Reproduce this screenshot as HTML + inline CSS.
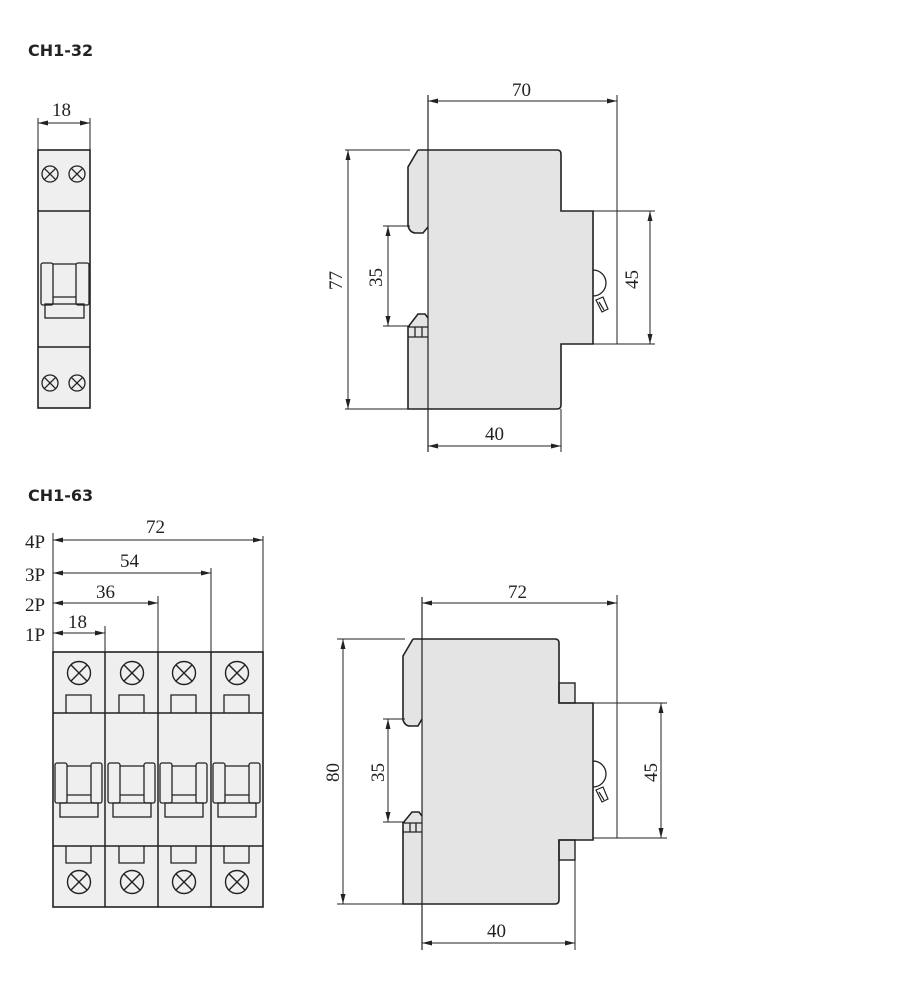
<!DOCTYPE html>
<html><head><meta charset="utf-8"><style>
html,body{margin:0;padding:0;background:#fff;width:900px;height:996px;overflow:hidden}
svg{display:block}
text{font-family:"Liberation Serif",serif;font-size:19px;fill:#222}
.h{font-family:"DejaVu Sans","Liberation Sans",sans-serif;font-weight:bold;font-size:16px;fill:#222}
</style></head><body>
<svg width="900" height="996" viewBox="0 0 900 996" xmlns="http://www.w3.org/2000/svg">
<defs>
<marker id="a" viewBox="0 0 10 6" refX="10" refY="3" markerWidth="10" markerHeight="6" orient="auto-start-reverse" markerUnits="userSpaceOnUse"><path d="M0,0.5 L10,3 L0,5.5 Z" fill="#222"/></marker>
<g id="cx"><circle r="8" fill="none" stroke="#222" stroke-width="1.3"/><path d="M-5.6,-5.6 L5.6,5.6 M-5.6,5.6 L5.6,-5.6" stroke="#222" stroke-width="1.3"/></g>
<g id="cx2"><circle r="11.5" fill="none" stroke="#222" stroke-width="1.4"/><path d="M-8.1,-8.1 L8.1,8.1 M-8.1,8.1 L8.1,-8.1" stroke="#222" stroke-width="1.4"/></g>
</defs>
<g stroke="#222" fill="none" stroke-width="1">
<text class="h" x="28" y="56" stroke="none">CH1-32</text>
<text class="h" x="28" y="501" stroke="none">CH1-63</text>

<!-- top-left 1P module -->
<rect x="38" y="150" width="52" height="258" fill="#efefef" stroke-width="1.6"/>
<line x1="38" y1="211" x2="90" y2="211" stroke-width="1.4"/>
<line x1="38" y1="347" x2="90" y2="347" stroke-width="1.4"/>
<use href="#cx" x="50" y="174"/><use href="#cx" x="77" y="174"/>
<use href="#cx" x="50" y="383"/><use href="#cx" x="77" y="383"/>
<rect x="41" y="263" width="12" height="42" rx="2" stroke-width="1.3"/>
<rect x="76" y="263" width="13" height="42" rx="2" stroke-width="1.3"/>
<path d="M53,264 L76,264 M53,297 L76,297" stroke-width="1.3"/>
<rect x="45" y="304" width="39" height="14" stroke-width="1.3"/>
<line x1="38" y1="118" x2="38" y2="150"/><line x1="90" y1="118" x2="90" y2="150"/>
<line x1="38" y1="123" x2="90" y2="123" marker-start="url(#a)" marker-end="url(#a)"/>
<text x="52" y="116" stroke="none">18</text>

<!-- top side view -->
<g fill="#e4e4e4" stroke="none">
<path d="M428,150 L557,150 Q561,150 561,154 L561,211 L593,211 L593,344 L561,344 L561,405 Q561,409 557,409 L428,409 Z"/>
<path d="M418,150 L429,150 L429,227 L423,233 L416,233 Q410,233 408,226 L408,167 Z"/>
<path d="M408,327 L418,314 L425,314 L429,318 L429,409 L408,409 Z"/>
</g>
<path d="M418,150 L557,150 Q561,150 561,154 L561,211 L593,211 L593,344 L561,344 L561,405 Q561,409 557,409 L408,409 L408,327 L418,314 L425,314 L428,318 M418,150 L408,167 L408,226 Q410,233 416,233 L423,233 L428,227" stroke-width="1.6"/>
<path d="M408,327 L428,327 M408,337 L428,337 M415,327 L415,337 M422,327 L422,337" stroke-width="1.3"/>
<path d="M593,270 A13,13 0 0 1 593,296" stroke-width="1.3"/>
<path d="M596,300 L603,297 L608,309 L602,312 Z M599,302 L604,310" stroke-width="1.2"/>
<line x1="428" y1="95" x2="428" y2="452" stroke-width="1.2"/>
<line x1="617" y1="95" x2="617" y2="344"/>
<line x1="428" y1="101" x2="617" y2="101" marker-start="url(#a)" marker-end="url(#a)"/>
<text x="512" y="96" stroke="none">70</text>
<line x1="345" y1="150" x2="410" y2="150"/><line x1="345" y1="409" x2="410" y2="409"/>
<line x1="348" y1="150" x2="348" y2="409" marker-start="url(#a)" marker-end="url(#a)"/>
<text transform="translate(342,290) rotate(-90)" stroke="none">77</text>
<line x1="383" y1="226" x2="410" y2="226"/><line x1="383" y1="326" x2="410" y2="326"/>
<line x1="388" y1="226" x2="388" y2="326" marker-start="url(#a)" marker-end="url(#a)"/>
<text transform="translate(382,287) rotate(-90)" stroke="none">35</text>
<line x1="580" y1="211" x2="655" y2="211"/><line x1="593" y1="344" x2="655" y2="344"/>
<line x1="650" y1="211" x2="650" y2="344" marker-start="url(#a)" marker-end="url(#a)"/>
<text transform="translate(638,289) rotate(-90)" stroke="none">45</text>
<line x1="561" y1="409" x2="561" y2="452"/>
<line x1="428" y1="446" x2="561" y2="446" marker-start="url(#a)" marker-end="url(#a)"/>
<text x="485" y="440" stroke="none">40</text>

<!-- bottom-left 4P -->
<rect x="53" y="652" width="210" height="255" fill="#efefef" stroke-width="1.6"/>
<g stroke-width="1.5">
<line x1="53" y1="713" x2="263" y2="713"/><line x1="53" y1="846" x2="263" y2="846"/>
<line x1="105" y1="652" x2="105" y2="907"/><line x1="158" y1="652" x2="158" y2="907"/><line x1="211" y1="652" x2="211" y2="907"/>
</g>
<g id="m">
<use href="#cx2" x="79" y="673"/><use href="#cx2" x="79" y="882"/>
<path d="M66,713 L66,695 L91,695 L91,713 M66,846 L66,863 L91,863 L91,846" stroke-width="1.3"/>
<rect x="55" y="763" width="12" height="40" rx="2" stroke-width="1.3"/>
<rect x="91" y="763" width="11" height="40" rx="2" stroke-width="1.3"/>
<path d="M67,766 L91,766 M67,795 L91,795" stroke-width="1.3"/>
<rect x="60" y="803" width="38" height="14" stroke-width="1.3"/>
</g>
<use href="#m" x="53"/><use href="#m" x="105"/><use href="#m" x="158"/>
<line x1="53" y1="533" x2="53" y2="652"/>
<line x1="263" y1="536" x2="263" y2="652"/><line x1="211" y1="568" x2="211" y2="652"/>
<line x1="158" y1="596" x2="158" y2="652"/><line x1="105" y1="626" x2="105" y2="652"/>
<line x1="53" y1="540" x2="263" y2="540" marker-start="url(#a)" marker-end="url(#a)"/>
<line x1="53" y1="573" x2="211" y2="573" marker-start="url(#a)" marker-end="url(#a)"/>
<line x1="53" y1="603" x2="158" y2="603" marker-start="url(#a)" marker-end="url(#a)"/>
<line x1="53" y1="633" x2="105" y2="633" marker-start="url(#a)" marker-end="url(#a)"/>
<g stroke="none">
<text x="146" y="533">72</text><text x="120" y="567">54</text><text x="96" y="598">36</text><text x="68" y="628">18</text>
<text x="25" y="548">4P</text><text x="25" y="581">3P</text><text x="25" y="611">2P</text><text x="25" y="641">1P</text>
</g>

<!-- bottom side view -->
<g fill="#e4e4e4" stroke="none">
<path d="M422,639 L555,639 Q559,639 559,643 L559,703 L593,703 L593,840 L559,840 L559,900 Q559,904 555,904 L422,904 Z"/>
<path d="M413,639 L423,639 L423,719 L418,726 L410,726 Q405,726 403,720 L403,656 Z"/>
<path d="M403,823 L412,812 L419,812 L423,816 L423,904 L403,904 Z"/>
</g>
<rect x="559" y="683" width="16" height="20" fill="#e4e4e4" stroke-width="1.4"/>
<rect x="559" y="840" width="16" height="20" fill="#e4e4e4" stroke-width="1.4"/>
<path d="M413,639 L555,639 Q559,639 559,643 L559,703 L593,703 L593,840 L559,840 L559,900 Q559,904 555,904 L403,904 L403,823 L412,812 L419,812 L422,816 M413,639 L403,656 L403,720 Q405,726 410,726 L418,726 L422,719" stroke-width="1.6"/>
<path d="M403,823 L422,823 M403,832 L422,832 M410,823 L410,832 M416,823 L416,832" stroke-width="1.3"/>
<path d="M593,761 A13,13 0 0 1 593,787" stroke-width="1.3"/>
<path d="M596,790 L603,787 L608,799 L602,802 Z M599,792 L604,800" stroke-width="1.2"/>
<line x1="422" y1="597" x2="422" y2="950" stroke-width="1.2"/>
<line x1="617" y1="595" x2="617" y2="838"/>
<line x1="422" y1="603" x2="617" y2="603" marker-start="url(#a)" marker-end="url(#a)"/>
<text x="508" y="598" stroke="none">72</text>
<line x1="337" y1="639" x2="405" y2="639"/><line x1="337" y1="904" x2="405" y2="904"/>
<line x1="343" y1="639" x2="343" y2="904" marker-start="url(#a)" marker-end="url(#a)"/>
<text transform="translate(339,782) rotate(-90)" stroke="none">80</text>
<line x1="383" y1="719" x2="405" y2="719"/><line x1="383" y1="822" x2="405" y2="822"/>
<line x1="388" y1="719" x2="388" y2="822" marker-start="url(#a)" marker-end="url(#a)"/>
<text transform="translate(384,782) rotate(-90)" stroke="none">35</text>
<line x1="593" y1="703" x2="667" y2="703"/><line x1="593" y1="838" x2="667" y2="838"/>
<line x1="661" y1="703" x2="661" y2="838" marker-start="url(#a)" marker-end="url(#a)"/>
<text transform="translate(657,782) rotate(-90)" stroke="none">45</text>
<line x1="575" y1="860" x2="575" y2="950"/>
<line x1="422" y1="943" x2="575" y2="943" marker-start="url(#a)" marker-end="url(#a)"/>
<text x="487" y="937" stroke="none">40</text>
</g>
</svg>
</body></html>
